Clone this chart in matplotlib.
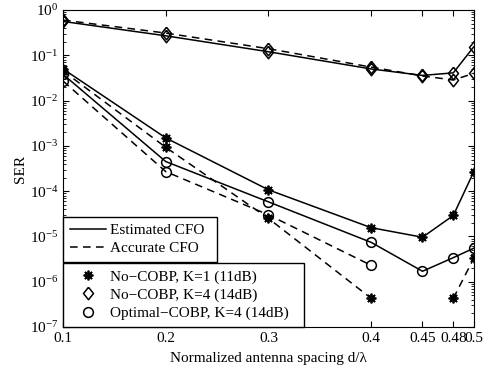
import matplotlib
matplotlib.use("Agg")
import matplotlib.pyplot as plt
import numpy as np
from matplotlib.lines import Line2D

plt.rcParams['font.family'] = ['Liberation Serif', 'DejaVu Serif']
plt.rcParams['mathtext.fontset'] = 'stix'

spacing = [0.1, 0.2, 0.3, 0.4, 0.45, 0.48, 0.5]
xtick_labels = ['0.1', '0.2', '0.3', '0.4', '0.45', '0.48', '0.5']

# No-COBP, K=1 (11dB)
k1_est = [0.05, 1.5e-3, 1.07e-4, 1.56e-5, 9.6e-6, 2.9e-5, 2.7e-4]
k1_acc = [0.045, 9.3e-4, 2.5e-5, 4.3e-7, np.nan, 4.3e-7, 3.3e-6]
# No-COBP, K=4 (14dB)
k4_est = [0.56, 0.27, 0.12, 0.05, 0.036, 0.041, 0.155]
k4_acc = [0.6, 0.31, 0.14, 0.055, 0.035, 0.0285, 0.040]
# Optimal-COBP, K=4 (14dB)
opt_est = [0.038, 4.5e-4, 5.8e-5, 7.4e-6, 1.7e-6, 3.4e-6, 5.5e-6]
opt_acc = [0.027, 2.7e-4, 3.0e-5, 2.3e-6, np.nan, np.nan, np.nan]

fs = 11
dash = (0, (5, 3.5))
fig = plt.figure(figsize=(4.89, 3.72), dpi=100)
ax = fig.add_axes([0.129, 0.121, 0.840, 0.852])

star = (8, 2, 0)
diamond = [(0, 1), (0.8, 0), (0, -1), (-0.8, 0), (0, 1)]
base = dict(color='black', markerfacecolor='none', markeredgecolor='black',
            markeredgewidth=1.1, linewidth=1.1)

ax.semilogy(spacing, k1_est, linestyle='-', marker=star, markersize=7,
            markeredgewidth=1.3, color='black', linewidth=1.1)
ax.semilogy(spacing, k1_acc, linestyle=dash, marker=star, markersize=7,
            markeredgewidth=1.3, color='black', linewidth=1.1)
ax.semilogy(spacing, k4_est, linestyle='-', marker=diamond, markersize=9, **base)
ax.semilogy(spacing, k4_acc, linestyle=dash, marker=diamond, markersize=9, **base)
ax.semilogy(spacing, opt_est, linestyle='-', marker='o', markersize=7, **base)
ax.semilogy(spacing, opt_acc, linestyle=dash, marker='o', markersize=7, **base)

ax.set_xlim(0.1, 0.5)
ax.set_ylim(1e-7, 1)
ax.set_xticks(spacing)
ax.set_xticklabels(xtick_labels)
ax.set_yticks([10.0**k for k in range(-7, 1)])
ax.tick_params(which='both', direction='in', top=True, right=True, labelsize=fs)
ax.tick_params(which='major', length=4)
ax.tick_params(which='minor', length=2)
ax.set_xlabel('Normalized antenna spacing d/\u03bb', fontsize=fs, labelpad=5)
ax.set_ylabel('SER', fontsize=fs, labelpad=2)

legkw = dict(loc='lower left', fontsize=fs, fancybox=False, edgecolor='black',
             framealpha=1, borderaxespad=0, handlelength=2.35, mode='expand',
             labelspacing=0.28, handletextpad=0.3, borderpad=0.45)

h1 = [Line2D([], [], color='black', linestyle='-', linewidth=1.1),
      Line2D([], [], color='black', linestyle=dash, linewidth=1.1)]
leg1 = ax.legend(h1, ['Estimated CFO', 'Accurate CFO'],
                 bbox_to_anchor=(0.0, 0.205, 0.375, 0.1), **legkw)
leg1.get_frame().set_linewidth(1.0)
ax.add_artist(leg1)

h2 = [Line2D([], [], color='black', linestyle='none', marker=star, markersize=7,
             markeredgewidth=1.3),
      Line2D([], [], color='black', linestyle='none', marker=diamond, markersize=9,
             markerfacecolor='none', markeredgewidth=1.1),
      Line2D([], [], color='black', linestyle='none', marker='o', markersize=7,
             markerfacecolor='none', markeredgewidth=1.1)]
leg2 = ax.legend(h2, ['No\u2212COBP, K=1 (11dB)', 'No\u2212COBP, K=4 (14dB)',
                      'Optimal\u2212COBP, K=4 (14dB)'],
                 bbox_to_anchor=(0.0, 0.0, 0.586, 0.1), **legkw)
leg2.get_frame().set_linewidth(1.0)

fig.savefig('out.png', dpi=100, facecolor='white')
